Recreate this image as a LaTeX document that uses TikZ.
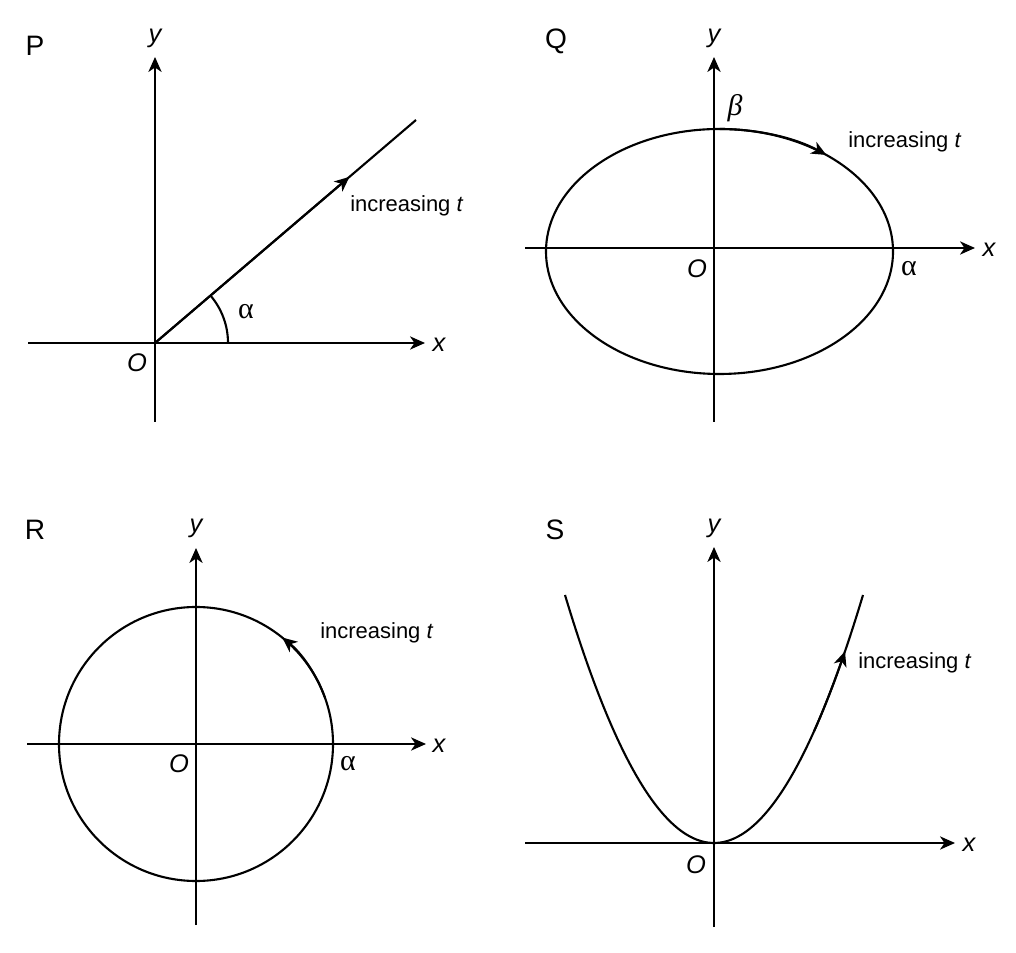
\documentclass[tikz,border=0pt]{standalone}
\usepackage{fontspec}
\setmainfont{Liberation Sans}
\newfontfamily\grk{Liberation Serif}
\usetikzlibrary{arrows.meta,calc}
\tikzset{
  ln/.style={line width=1.2pt, line join=round},
  ax/.style={ln, -{Stealth[length=8.5pt,width=7.5pt,inset=2.5pt]}},
  midtip/.style={ln, -{Stealth[length=8.5pt,width=7.5pt,inset=2.5pt]}},
  lbl/.style={inner sep=0pt, font=\fontsize{12.5}{15}\selectfont},
  axl/.style={inner sep=0pt, font=\fontsize{14.5}{17}\selectfont\itshape},
  grl/.style={inner sep=0pt, font=\fontsize{17}{20}\selectfont\grk},
  ttl/.style={inner sep=0pt, font=\fontsize{16}{19}\selectfont},
}
\begin{document}
\begin{tikzpicture}[x=0.02cm,y=0.02cm]
\useasboundingbox (0,0) rectangle (1016,952);
% ---------- P ----------
\coordinate (PO) at (155,609);
\coordinate (PE) at (416,832);
\draw[ax] (155,530) -- (155,895);
\draw[ax] (28,609) -- (425,609);
\draw[ln] (PO) -- (PE);
\draw[midtip] (PO) -- ($(PO)!0.745!(PE)$);
\draw[ln] ($(PO)+(73,0)$) arc[start angle=0,end angle=40.5,radius=73];
\node[ttl] (Ptitle) at (35,906) {P};
\node[axl] (Py) at (155,914) {y};
\node[axl] (Px) at (439,607) {x};
\node[axl] (POl) at (137,589) {O};
\node[grl] (Pa) at (246,640) {α};
\node[lbl,anchor=west] (Pt) at (350,746) {increasing \textit{t}};
% ---------- Q ----------
\coordinate (QC) at (719.5,700.5);
\draw[ax] (714,530) -- (714,895);
\draw[ax] (525,704) -- (975,704);
\draw[ln] (QC) ellipse[x radius=173.5,y radius=122.5];
\draw[midtip] ($(QC)+(0,122.5)$) arc[start angle=90,end angle=52,x radius=173.5,y radius=122.5];
\node[ttl] (Qtitle) at (556,911) {Q};
\node[axl] (Qy) at (714,914) {y};
\node[axl] (Qx) at (989,702) {x};
\node[axl] (QOl) at (697,683) {O};
\node[grl] (Qa) at (909,683) {α};
\node[grl] (Qb) at (735,844) {\itshape β};
\node[lbl,anchor=west] (Qt) at (848,810) {increasing \textit{t}};
% ---------- R ----------
\coordinate (RC) at (196,208);
\draw[ax] (196,27) -- (196,404);
\draw[ax] (27,208) -- (426,208);
\draw[ln] (RC) circle[radius=137];
\draw[midtip] ($(RC)+(20:137)$) arc[start angle=20,end angle=51,radius=137];
\node[ttl] (Rtitle) at (35,422) {R};
\node[axl] (Ry) at (196,424) {y};
\node[axl] (Rx) at (439,206) {x};
\node[axl] (ROl) at (179,188) {O};
\node[grl] (Ra) at (348,188) {α};
\node[lbl,anchor=west] (Rt) at (320,319) {increasing \textit{t}};
% ---------- S ----------
\coordinate (SO) at (714,109);
\draw[ax] (714,25) -- (714,405);
\draw[ax] (525,109) -- (955,109);
\draw[ln] plot[domain=-149:149,samples=80,smooth] ({714+\x},{109+1.117*(\x/10)*(\x/10)});
\draw[midtip] plot[domain=100:131,samples=12,smooth] ({714+\x},{109+1.117*(\x/10)*(\x/10)});
\node[ttl] (Stitle) at (555,422) {S};
\node[axl] (Sy) at (714,424) {y};
\node[axl] (Sx) at (969,107) {x};
\node[axl] (SOl) at (696,87) {O};
\node[lbl,anchor=west] (St) at (858,289) {increasing \textit{t}};
\end{tikzpicture}
\end{document}
